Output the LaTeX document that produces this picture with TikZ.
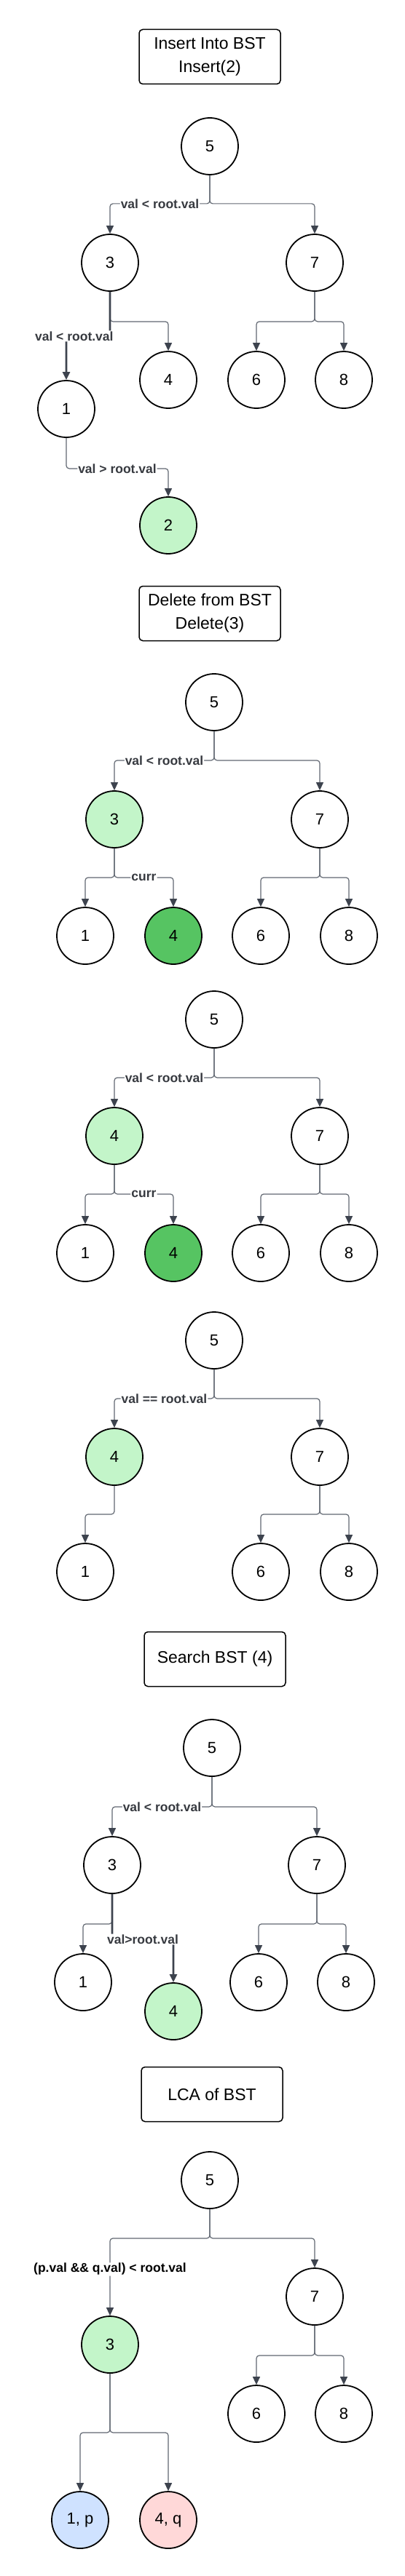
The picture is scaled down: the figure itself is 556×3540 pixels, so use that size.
\documentclass[tikz,border=0pt]{standalone}
\usepackage{fontspec}
\usepackage{xcolor}
\usepackage{tikz}
\usetikzlibrary{arrows.meta}
\setmainfont{Liberation Sans}
\definecolor{lgreen}{RGB}{195,245,201}
\definecolor{dgreen}{RGB}{86,196,98}
\definecolor{lblue}{RGB}{207,226,255}
\definecolor{lpink}{RGB}{255,216,216}
\definecolor{edgegray}{RGB}{98,104,114}
\definecolor{tipgray}{RGB}{61,67,78}
\definecolor{lblgray}{RGB}{55,58,64}
\tikzset{
  bnode/.style={circle,draw,line width=1.8pt,minimum size=78pt,inner sep=0pt,font=\fontsize{22}{26}\selectfont},
  headbox/.style={draw,rounded corners=5pt,line width=1.5pt,minimum width=194pt,minimum height=75pt,align=center,font=\fontsize{23}{32}\selectfont},
  elbow/.style={draw=edgegray,line width=1.2pt,rounded corners=4pt,-{Triangle[length=11pt,width=10pt,color=tipgray]}},
  hot/.style={elbow,draw=tipgray,line width=2.6pt},
  lbl/.style={fill=white,inner sep=1pt,text=lblgray,font=\bfseries\fontsize{17.5}{20}\selectfont},
}
\begin{document}
\begin{tikzpicture}[x=1pt,y=-1pt]
  \fill[white] (0,0) rectangle (556,3540);
  \useasboundingbox (0,0) rectangle (556,3540);

  \node[headbox] (ins) at (288,78) {Insert Into BST\\Insert(2)};
  \node[bnode] (i5) at (288,201) {5};
  \node[bnode] (i3) at (151,361) {3};
  \node[bnode] (i7) at (432,361) {7};
  \node[bnode] (i4) at (231,522) {4};
  \node[bnode] (i6) at (352,522) {6};
  \node[bnode] (i8) at (472,522) {8};
  \node[bnode] (i1) at (91,562) {1};
  \node[bnode,fill=lgreen] (i2) at (231,722) {2};
  \draw[elbow] (i5.south) -- ++(0,39) -| node[lbl,pos=0.25] {val < root.val} (i3);
  \draw[elbow] (i5.south) -- ++(0,39) -| (i7);
  \draw[elbow] (i3.south) -- ++(0,41) -| (i4);
  \draw[hot] (i3.south) -- ++(0,61) -| node[lbl,pos=0.41] {val < root.val} (i1);
  \draw[elbow] (i7.south) -- ++(0,41) -| (i6);
  \draw[elbow] (i7.south) -- ++(0,41) -| (i8);
  \draw[elbow] (i1.south) -- ++(0,42) -| node[lbl,pos=0.25] {val > root.val} (i2);

  \node[headbox] (del) at (288,843) {Delete from BST\\Delete(3)};
  \node[bnode] (a5) at (294,965) {5};
  \node[bnode,fill=lgreen] (a3) at (157,1126) {3};
  \node[bnode] (a7) at (439,1126) {7};
  \node[bnode] (a1) at (117,1286) {1};
  \node[bnode,fill=dgreen] (a4) at (238,1286) {4};
  \node[bnode] (a6) at (358,1286) {6};
  \node[bnode] (a8) at (479,1286) {8};
  \draw[elbow] (a5.south) -- ++(0,40) -| node[lbl,pos=0.25] {val < root.val} (a3);
  \draw[elbow] (a5.south) -- ++(0,40) -| (a7);
  \draw[elbow] (a3.south) -- ++(0,40) -| (a1);
  \draw[elbow] (a3.south) -- ++(0,40) -| node[lbl,pos=0.25] {curr} (a4);
  \draw[elbow] (a7.south) -- ++(0,40) -| (a6);
  \draw[elbow] (a7.south) -- ++(0,40) -| (a8);

  \node[bnode] (b5) at (294,1401) {5};
  \node[bnode,fill=lgreen] (b4) at (157,1561) {4};
  \node[bnode] (b7) at (439,1561) {7};
  \node[bnode] (b1) at (117,1722) {1};
  \node[bnode,fill=dgreen] (b4s) at (238,1722) {4};
  \node[bnode] (b6) at (358,1722) {6};
  \node[bnode] (b8) at (479,1722) {8};
  \draw[elbow] (b5.south) -- ++(0,40) -| node[lbl,pos=0.25] {val < root.val} (b4);
  \draw[elbow] (b5.south) -- ++(0,40) -| (b7);
  \draw[elbow] (b4.south) -- ++(0,40) -| (b1);
  \draw[elbow] (b4.south) -- ++(0,40) -| node[lbl,pos=0.25] {curr} (b4s);
  \draw[elbow] (b7.south) -- ++(0,40) -| (b6);
  \draw[elbow] (b7.south) -- ++(0,40) -| (b8);

  \node[bnode] (c5) at (294,1842) {5};
  \node[bnode,fill=lgreen] (c4) at (157,2002) {4};
  \node[bnode] (c7) at (439,2002) {7};
  \node[bnode] (c1) at (117,2160) {1};
  \node[bnode] (c6) at (358,2160) {6};
  \node[bnode] (c8) at (479,2160) {8};
  \draw[elbow] (c5.south) -- ++(0,40) -| node[lbl,pos=0.25] {val == root.val} (c4);
  \draw[elbow] (c5.south) -- ++(0,40) -| (c7);
  \draw[elbow] (c4.south) -- ++(0,39) -| (c1);
  \draw[elbow] (c7.south) -- ++(0,39) -| (c6);
  \draw[elbow] (c7.south) -- ++(0,39) -| (c8);

  \node[headbox] (srch) at (295,2280) {Search BST (4)};
  \node[bnode] (s5) at (291,2402) {5};
  \node[bnode] (s3) at (154,2563) {3};
  \node[bnode] (s7) at (435,2563) {7};
  \node[bnode] (s1) at (114,2724) {1};
  \node[bnode,fill=lgreen] (s4) at (238,2764) {4};
  \node[bnode] (s6) at (355,2724) {6};
  \node[bnode] (s8) at (475,2724) {8};
  \draw[elbow] (s5.south) -- ++(0,41) -| node[lbl,pos=0.25] {val < root.val} (s3);
  \draw[elbow] (s5.south) -- ++(0,41) -| (s7);
  \draw[elbow] (s3.south) -- ++(0,41) -| (s1);
  \draw[hot] (s3.south) -- ++(0,62) -| node[lbl,pos=0.25] {val>root.val} (s4);
  \draw[elbow] (s7.south) -- ++(0,41) -| (s6);
  \draw[elbow] (s7.south) -- ++(0,41) -| (s8);

  \node[headbox] (lca) at (291,2878) {LCA of BST};
  \node[bnode] (l5) at (288,2996) {5};
  \node[bnode,fill=lgreen] (l3) at (151,3222) {3};
  \node[bnode] (l7) at (432,3156) {7};
  \node[bnode] (l6) at (352,3317) {6};
  \node[bnode] (l8) at (472,3317) {8};
  \node[bnode,fill=lblue] (l1) at (110,3463) {1, p};
  \node[bnode,fill=lpink] (l4) at (231,3463) {4, q};
  \draw[elbow] (l5.south) -- ++(0,40) -| node[lbl,text=black,pos=0.7] {(p.val \&\& q.val) < root.val} (l3);
  \draw[elbow] (l5.south) -- ++(0,40) -| (l7);
  \draw[elbow] (l3.south) -- ++(0,81) -| (l1);
  \draw[elbow] (l3.south) -- ++(0,81) -| (l4);
  \draw[elbow] (l7.south) -- ++(0,41) -| (l6);
  \draw[elbow] (l7.south) -- ++(0,41) -| (l8);
\end{tikzpicture}
\end{document}
